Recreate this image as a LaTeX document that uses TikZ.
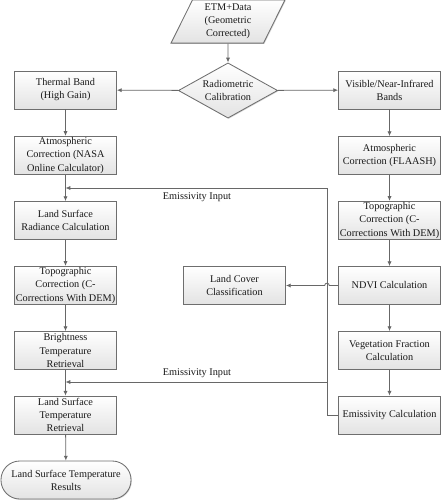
\documentclass[tikz,border=0pt]{standalone}
\usepackage{fontspec}
\setmainfont{Liberation Serif}
\usepackage{tikz}
\usetikzlibrary{shapes.geometric, arrows.meta, positioning, shadows}
\usepackage{xcolor}
\definecolor{linegray}{HTML}{676767}
\definecolor{edgegray}{HTML}{6E6E6E}

\begin{document}
\begin{tikzpicture}[
    x=0.025cm, y=-0.025cm,
    txt/.style={font=\fontsize{7.3}{9.3}\selectfont, text=black!90},
    shade/.style={top color=white, bottom color=gray!22, draw=edgegray, line width=0.6pt,
        drop shadow={shadow xshift=0.6pt, shadow yshift=-0.6pt, opacity=0.3}},
    box/.style={rectangle, shade, txt, minimum width=2.55cm, minimum height=0.95cm, align=center, inner sep=1pt},
    terminal/.style={rectangle, rounded corners=0.47cm, shade, txt, minimum width=3.25cm, minimum height=0.95cm, align=center},
    decision/.style={diamond, shade, txt, aspect=1.8, inner sep=0pt, minimum width=2.48cm, minimum height=1.38cm, align=center},
    data/.style={trapezium, trapezium left angle=68, trapezium right angle=112, trapezium stretches=true,
        shade, txt, minimum width=2.85cm, minimum height=1.08cm, align=center, inner sep=0pt},
    arrow/.style={-{Latex[length=3.4pt, width=3pt]}, draw=linegray, line width=0.6pt},
    line/.style={draw=linegray, line width=0.6pt}
]
\useasboundingbox (0,0) rectangle (442,500);

% Input and calibration
\node[data] (etm) at (228, 21.5) {ETM+Data\\(Geometric\\Corrected)};
\node[decision] (calib) at (228, 90.5) {Radiometric\\Calibration};

% Thermal branch
\node[box] (thermal) at (65.5, 90) {Thermal Band\\(High Gain)};
\node[box] (nasa) at (65.5, 155.5) {Atmospheric\\Correction (NASA\\Online Calculator)};
\node[box] (lsr) at (65.5, 220.5) {Land Surface\\Radiance Calculation};
\node[box] (topoL) at (65.5, 285.5) {Topographic\\Correction (C-\\Corrections With DEM)};
\node[box] (bright) at (65.5, 350.5) {Brightness\\Temperature\\Retrieval};
\node[box] (lst) at (65.5, 415) {Land Surface\\Temperature\\Retrieval};
\node[terminal] (result) at (66, 480) {Land Surface Temperature\\Results};

% Visible/NIR branch
\node[box] (visible) at (389.5, 90) {Visible/Near-Infrared\\Bands};
\node[box] (flaash) at (389.5, 155.5) {Atmospheric\\Correction (FLAASH)};
\node[box] (topoR) at (389.5, 220.5) {Topographic\\Correction (C-\\Corrections With DEM)};
\node[box] (ndvi) at (389.5, 285.5) {NDVI Calculation};
\node[box] (vegfrac) at (389.5, 350.5) {Vegetation Fraction\\Calculation};
\node[box] (emis) at (389.5, 415) {Emissivity Calculation};
\node[box] (landcover) at (234.5, 285.5) {Land Cover\\Classification};

% Emissivity feedback
\coordinate (busTop) at (327, 188);
\coordinate (busLow) at (327, 382);
\node[txt] (emisTop) at (197, 197) {Emissivity Input};
\node[txt] (emisLow) at (197, 373) {Emissivity Input};

% Connectors
\draw[arrow] (etm) -- (calib);
\draw[arrow] (calib) -- (thermal);
\draw[arrow] (calib) -- (visible);
\draw[arrow] (thermal) -- (nasa);
\draw[arrow] (nasa) -- (lsr);
\draw[arrow] (lsr) -- (topoL);
\draw[arrow] (topoL) -- (bright);
\draw[arrow] (bright) -- (lst);
\draw[arrow] (lst) -- (result);
\draw[arrow] (visible) -- (flaash);
\draw[arrow] (flaash) -- (topoR);
\draw[arrow] (topoR) -- (ndvi);
\draw[arrow] (ndvi) -- (vegfrac);
\draw[arrow] (vegfrac) -- (emis);
\draw[line] (emis.west) -| (busTop);
\draw[arrow] (busTop) -- (nasa.south |- busTop);
\draw[arrow] (busLow) -- (bright.south |- busLow);
\draw[arrow] (ndvi.west) -- (329.3, 285.5) arc[start angle=0, end angle=180, radius=1.65pt] -- (landcover.east);

\end{tikzpicture}
\end{document}
